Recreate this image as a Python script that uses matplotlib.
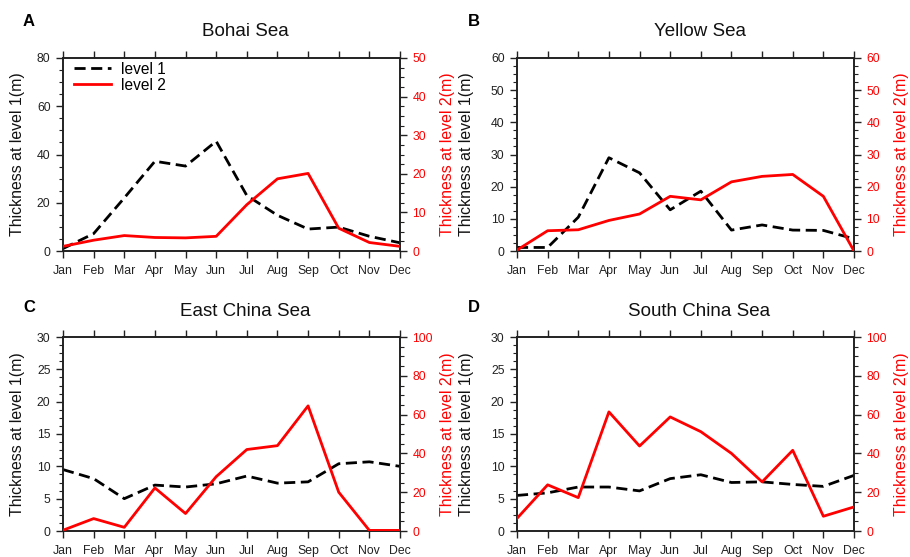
import matplotlib
matplotlib.use("Agg")
import matplotlib.pyplot as plt
from matplotlib.ticker import MultipleLocator, AutoMinorLocator

plt.rcParams['font.family'] = ['Liberation Sans', 'DejaVu Sans']

months = ["Jan", "Feb", "Mar", "Apr", "May", "Jun", "Jul", "Aug", "Sep", "Oct", "Nov", "Dec"]

bohai_l1 = [1.0, 7.2, 22.0, 37.2, 35.2, 45.5, 23.0, 14.8, 9.1, 9.9, 6.1, 3.4]
bohai_l2 = [1.2, 2.8, 4.0, 3.5, 3.4, 3.8, 12.0, 18.7, 20.1, 5.9, 2.2, 1.2]

yellow_l1 = [1.1, 1.1, 10.5, 29.0, 24.3, 12.8, 18.6, 6.5, 8.1, 6.5, 6.4, 3.8]
yellow_l2 = [0.3, 6.3, 6.6, 9.5, 11.5, 17.0, 15.9, 21.5, 23.2, 23.8, 17.0, 0.0]

ecs_l1 = [9.5, 8.1, 5.0, 7.1, 6.8, 7.3, 8.5, 7.4, 7.6, 10.4, 10.7, 10.0]
ecs_l2 = [0.4, 6.4, 1.9, 22.2, 9.0, 28.0, 42.0, 44.0, 64.5, 20.0, 0.3, 0.3]

scs_l1 = [5.5, 5.9, 6.8, 6.8, 6.2, 8.1, 8.7, 7.5, 7.6, 7.2, 6.9, 8.6]
scs_l2 = [6.5, 23.8, 17.2, 61.4, 43.8, 58.8, 51.2, 40.0, 25.3, 41.6, 7.6, 12.4]

titles = ["Bohai Sea", "Yellow Sea", "East China Sea", "South China Sea"]
letters = ["A", "B", "C", "D"]
l1_series = [bohai_l1, yellow_l1, ecs_l1, scs_l1]
l2_series = [bohai_l2, yellow_l2, ecs_l2, scs_l2]
l1_limits = [(0, 80, 20), (0, 60, 10), (0, 30, 5), (0, 30, 5)]
l2_limits = [(0, 50, 10), (0, 60, 10), (0, 100, 20), (0, 100, 20)]

W, H = 910, 557
fig = plt.figure(figsize=(9.1, 5.57), dpi=100)

boxes = [(63, 58, 400, 251), (517, 58, 854, 251), (63, 337, 400, 531), (517, 337, 854, 531)]
spine_col = "#222222"
x = list(range(len(months)))

for i in range(4):
    l, t, r, b = boxes[i]
    ax = fig.add_axes([l / W, 1 - b / H, (r - l) / W, (b - t) / H])
    ax2 = ax.twinx()

    line1, = ax.plot(x, l1_series[i], color="black", lw=2.0, dashes=(4, 2), label="level 1", zorder=3)
    line2, = ax2.plot(x, l2_series[i], color="red", lw=2.0, label="level 2", zorder=3)

    ax.set_xlim(0, 11)
    ax.set_xticks(x)
    ax.set_xticklabels(months)
    lo, hi, st = l1_limits[i]
    ax.set_ylim(lo, hi)
    ax.yaxis.set_major_locator(MultipleLocator(st))
    ax.yaxis.set_minor_locator(AutoMinorLocator(4))
    lo2, hi2, st2 = l2_limits[i]
    ax2.set_ylim(lo2, hi2)
    ax2.yaxis.set_major_locator(MultipleLocator(st2))
    ax2.yaxis.set_minor_locator(AutoMinorLocator(4))

    ax.tick_params(axis="x", which="major", direction="out", top=True, bottom=True,
                   length=5, width=1.0, color=spine_col, labelsize=8.8, pad=5, labelcolor="#222222")
    ax.tick_params(axis="y", which="major", direction="out", left=True, right=False,
                   length=5, width=1.0, color=spine_col, labelsize=8.8, pad=4, labelcolor="#222222")
    ax.tick_params(axis="y", which="minor", direction="out", left=True, right=False,
                   length=2.8, width=0.8, color=spine_col)
    ax2.tick_params(axis="y", which="major", direction="out", right=True,
                    length=5, width=1.0, color=spine_col, labelsize=8.8, pad=4, labelcolor="red")
    ax2.tick_params(axis="y", which="minor", direction="out", right=True,
                    length=2.8, width=0.8, color=spine_col)

    for a in (ax, ax2):
        for s in a.spines.values():
            s.set_color(spine_col)
            s.set_linewidth(1.2)

    ax.set_ylabel("Thickness at level 1(m)", fontsize=11.4, color="#111111")
    ax.yaxis.set_label_coords(-0.113 if i % 2 == 0 else -0.127, 0.5)
    ax2.set_ylabel("Thickness at level 2(m)", fontsize=11.4, color="red")
    ax2.yaxis.set_label_coords(1.12, 0.5)

    cx = (l + r) / 2 + 14
    ty = 32 if i < 2 else 312
    fig.text(cx / W, 1 - ty / H, titles[i], fontsize=13.5, ha="center", va="center", color="#111111")
    lx = 29 if i % 2 == 0 else 474
    ly = 22 if i < 2 else 308
    fig.text(lx / W, 1 - ly / H, letters[i], fontsize=12, fontweight="bold", ha="center", va="center")

    if i == 0:
        ax.legend(handles=[line1, line2], loc="upper left", frameon=False, fontsize=11.2,
                  handlelength=2.4, handletextpad=0.6, labelspacing=0.05,
                  borderaxespad=0.1, bbox_to_anchor=(0.01, 1.02))

fig.savefig("out.png", dpi=100)
